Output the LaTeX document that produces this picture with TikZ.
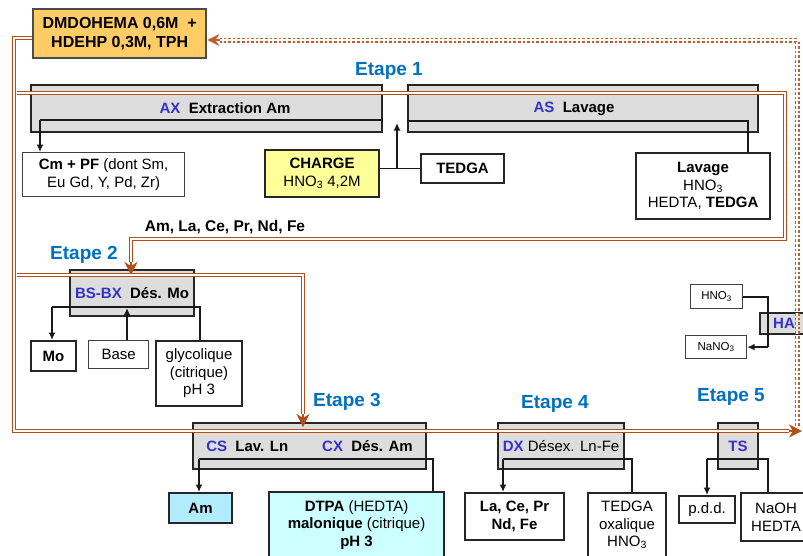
\documentclass[tikz,border=0pt]{standalone}
\usepackage{fontspec}
\setmainfont{Liberation Sans}
\usetikzlibrary{arrows.meta,calc}
\definecolor{rust}{RGB}{178,78,24}
\definecolor{rustl}{RGB}{190,96,46}
\definecolor{etblue}{RGB}{0,112,192}
\definecolor{lblue}{RGB}{51,51,204}
\definecolor{solvfill}{RGB}{255,204,102}
\definecolor{chfill}{RGB}{255,255,153}
\definecolor{amfill}{RGB}{178,236,255}
\definecolor{dtfill}{RGB}{204,255,255}
\definecolor{gfill}{RGB}{221,221,221}
\begin{document}
\begin{tikzpicture}[x=1pt,y=-1pt,
  every node/.style={font=\fontsize{15}{17.5}\selectfont},
  bx/.style={draw=black!85, line width=2.1pt, fill=white, align=center, anchor=north west, inner sep=0pt},
  thinbx/.style={bx, line width=1.2pt, draw=black!75},
  gbx/.style={bx, fill=gfill, line width=2.1pt},
  etape/.style={font=\fontsize{19}{22}\selectfont\bfseries, text=etblue, inner sep=0pt},
  conn/.style={draw=black!90, line width=1.8pt},
  carr/.style={conn, -{Latex[length=7.5pt,width=7pt]}},
  dbl/.style={draw=rust, line width=1.2pt, double=white, double distance=2pt},
  dsh/.style={draw=rustl, line width=1.8pt, double=white, double distance=1.4pt, dash pattern=on 2.6pt off 2pt},
  rhead/.style={draw=rust, line width=1.2pt, -{Stealth[length=13pt,width=13pt,inset=4pt,fill=rust]}},
  dhead/.style={draw=rustl, line width=1.4pt, -{Stealth[length=12pt,width=12pt,inset=4pt,fill=rustl]}}
]
\useasboundingbox (0,0) rectangle (803,555);

% ---------- boxes ----------
\node[bx, fill=solvfill, draw=black!70, line width=2.4pt, minimum width=173pt, minimum height=49pt,
      font=\fontsize{16}{19}\selectfont\bfseries] (solv) at (32,8) {DMDOHEMA 0,6M~~+\\HDEHP 0,3M, TPH};

\node[gbx, minimum width=351pt, minimum height=47pt, font=\fontsize{15}{17.5}\selectfont\bfseries] (ax) at (30,84)
  {\hspace*{37pt}{\color{lblue}AX}~~Extraction Am};
\node[gbx, minimum width=350pt, minimum height=47pt, font=\fontsize{15}{17.5}\selectfont\bfseries] (as) at (407,84)
  {{\color{lblue}AS}~~Lavage\hspace*{18pt}};

\node[thinbx, minimum width=162pt, minimum height=44pt] (cmpf) at (22,152)
  {\textbf{Cm + PF} (dont Sm,\\Eu Gd, Y, Pd, Zr)};
\node[bx, fill=chfill, minimum width=114pt, minimum height=47pt] (charge) at (264,149)
  {\textbf{CHARGE}\\HNO\textsubscript{3} 4,2M};
\node[bx, minimum width=83pt, minimum height=29pt] (tedga1) at (420,153) {\textbf{TEDGA}};
\node[bx, minimum width=134pt, minimum height=66pt] (lavage) at (635,152)
  {\textbf{Lavage}\\HNO\textsubscript{3}\\HEDTA, \textbf{TEDGA}};

\node[font=\fontsize{15.5}{17.5}\selectfont\bfseries, inner sep=0pt] (flux) at (225,227) {Am, La, Ce, Pr, Nd, Fe};

\node[gbx, minimum width=124pt, minimum height=46pt, font=\fontsize{15}{17.5}\selectfont\bfseries] (bsbx) at (69,269)
  {{\color{lblue}BS-BX}~~Dés. Mo};
\node[bx, minimum width=45pt, minimum height=30pt] (mo) at (30,340) {\textbf{Mo}};
\node[thinbx, minimum width=60pt, minimum height=28pt] (base) at (88,340) {Base};
\node[bx, minimum width=86pt, minimum height=65pt] (glyco) at (155,340) {glycolique\\(citrique)\\pH 3};

\node[gbx, minimum width=233pt, minimum height=46pt, font=\fontsize{15}{17.5}\selectfont\bfseries] (cscx) at (192,422)
  {{\color{lblue}CS}~~Lav. Ln\hspace{34pt}{\color{lblue}CX}~~Dés. Am};
\node[bx, fill=amfill, minimum width=63pt, minimum height=30pt] (am) at (168,492) {\textbf{Am}};
\node[bx, fill=dtfill, minimum width=175pt, minimum height=66pt] (dtpa) at (268,491)
  {\textbf{DTPA} (HEDTA)\\\textbf{malonique} (citrique)\\\textbf{pH 3}};

\node[gbx, minimum width=126pt, minimum height=46pt] (dx) at (497,422)
  {\textbf{\color{lblue}DX} Désex. Ln-Fe};
\node[bx, minimum width=99pt, minimum height=47pt] (lace) at (464,492) {\textbf{La, Ce, Pr}\\\textbf{Nd, Fe}};
\node[bx, minimum width=78pt, minimum height=64pt] (tedga2) at (587,492) {TEDGA\\oxalique\\HNO\textsubscript{3}};

\node[gbx, minimum width=40pt, minimum height=46pt] (ts) at (717,422) {\textbf{\color{lblue}TS}};
\node[bx, minimum width=56pt, minimum height=27pt] (pdd) at (678,495) {p.d.d.};
\node[bx, minimum width=70pt, minimum height=48pt] (naoh) at (740,492) {NaOH\\HEDTA};

\node[thinbx, minimum width=52pt, minimum height=24pt, font=\fontsize{11.5}{13}\selectfont] (hno3s) at (690,284) {HNO\textsubscript{3}};
\node[thinbx, minimum width=61pt, minimum height=23pt, font=\fontsize{11.5}{13}\selectfont] (nano3) at (685,335) {NaNO\textsubscript{3}};
\node[gbx, minimum width=48pt, minimum height=21pt, font=\fontsize{15}{17}\selectfont\bfseries] (ha) at (759,312) {\color{lblue}HA};

% ---------- etape labels ----------
\node[etape] (e1) at (389,71) {Etape 1};
\node[etape] (e2) at (84,255) {Etape 2};
\node[etape] (e3) at (347,402) {Etape 3};
\node[etape] (e4) at (555,404) {Etape 4};
\node[etape] (e5) at (731,397) {Etape 5};

% ---------- black connectors ----------
\coordinate (axi) at (40,120);
\draw[conn] (ax.east|-axi) -- (axi);
\draw[carr] (axi) -- (axi|-cmpf.north);

\coordinate (chj) at (397,123);
\draw[conn] (tedga1.west) -- (charge.east|-tedga1.west);
\draw[carr] (chj|-tedga1.west) -- (chj);

\coordinate (asi) at (748,121);
\draw[conn] (as.west|-asi) -- (asi) -- (asi|-lavage.north);

\coordinate (bl) at (52,307);
\coordinate (br) at (200,307);
\coordinate (bb) at (127,308);
\draw[conn] (bl) -- (br) -- (br|-glyco.north);
\draw[carr] (bl) -- (bl|-mo.north);
\draw[carr] (bb|-base.north) -- (bb);

\coordinate (cl) at (199,459);
\coordinate (cr) at (433,459);
\draw[conn] (cl) -- (cr) -- (cr|-dtpa.north);
\draw[carr] (cl) -- (cl|-am.north);

\coordinate (dl) at (503,459);
\coordinate (dr) at (632,459);
\draw[conn] (dl) -- (dr) -- (dr|-tedga2.north);
\draw[carr] (dl) -- (dl|-lace.north);

\coordinate (tl) at (707,459);
\coordinate (tr) at (768,459);
\draw[conn] (tl) -- (tr) -- (tr|-naoh.north);
\draw[carr] (tl) -- (tl|-pdd.north);

\coordinate (hj) at (768,0);
\draw[conn] (hno3s.east) -| (hj|-nano3.east);
\draw[carr] (hj|-nano3.east) -- (nano3.east);

% ---------- solvent double lines ----------
\coordinate (L1) at (14,38);
\coordinate (L2) at (14,431);
\coordinate (m5) at (789,431);
\coordinate (t5) at (802,431);
\draw[dbl] (solv.west|-L1) -- (L1) -- (L2) -- (m5);
\draw[rhead] (m5) -- (t5);

\coordinate (b1s) at (16.8,93);
\coordinate (b1r) at (785,93);
\coordinate (b1d) at (785,239);
\coordinate (b1l) at (131,239);
\coordinate (b1m) at (131,262);
\coordinate (b1t) at (131,275);
\draw[dbl] (b1s) -- (b1r) -- (b1d) -- (b1l) -- (b1m);
\draw[rhead] (b1m) -- (b1t);

\coordinate (b2s) at (16.8,275);
\coordinate (b2r) at (303,275);
\coordinate (b2m) at (303,414);
\coordinate (b2t) at (303,427);
\draw[dbl] (b2s) -- (b2r) -- (b2m);
\draw[rhead] (b2m) -- (b2t);

% ---------- dashed solvent return ----------
\coordinate (r0) at (797,426);
\coordinate (r1) at (797,40);
\coordinate (r2) at (220,40);
\draw[dsh] (r0) -- (r1) -- (r2);
\draw[dhead] (r2) -- (solv.east|-r2);
\end{tikzpicture}
\end{document}
